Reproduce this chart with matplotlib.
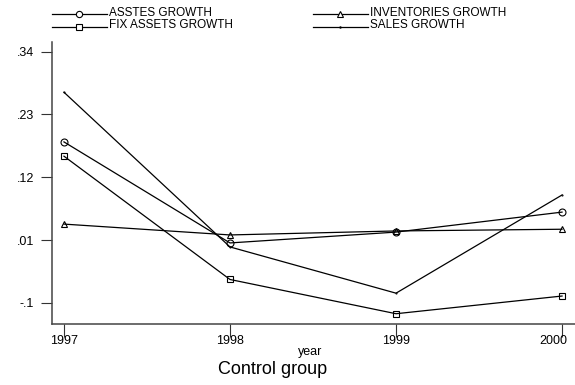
import matplotlib.pyplot as plt
import matplotlib.transforms as mtransforms
from matplotlib.lines import Line2D

plt.rcParams["font.family"] = ["Liberation Sans", "DejaVu Sans"]

years = [1997, 1998, 1999, 2000]
assets_growth = [0.182, 0.005, 0.024, 0.059]
inventories_growth = [0.038, 0.019, 0.026, 0.029]
fix_assets_growth = [0.157, -0.059, -0.119, -0.088]
sales_growth = [0.269, -0.002, -0.083, 0.089]
y_ticks = [-0.1, 0.01, 0.12, 0.23, 0.34]
y_labels = ["-.1", ".01", ".12", ".23", ".34"]

W, H = 575, 385
fig = plt.figure(figsize=(W / 100, H / 100), dpi=100)
ax = fig.add_axes([52 / W, 1 - 324 / H, 523 / W, 282 / H])

mk = dict(color="black", linewidth=0.9, markersize=5, markerfacecolor="none",
          markeredgewidth=0.8)
ax.plot(years, assets_growth, marker="o", **mk)
ax.plot(years, inventories_growth, marker="^", **mk)
ax.plot(years, fix_assets_growth, marker="s", **mk)
ax.plot(years, sales_growth, marker=".", color="black", linewidth=0.9, markersize=1)

ax.set_xlim(1996.928, 2000.078)
ax.set_ylim(-0.137, 0.357)
ax.set_xticks(years)
ax.set_xticklabels([str(y) for y in years], fontsize=9)
ax.set_yticks(y_ticks)
ax.set_yticklabels(y_labels, fontsize=9)
ax.tick_params(axis="y", direction="out", length=8, width=0.8, color="#333333", pad=5)
ax.tick_params(axis="x", direction="out", length=9, width=0.8, color="#333333", pad=-1)
for s in ["top", "right"]:
    ax.spines[s].set_visible(False)
for s in ["left", "bottom"]:
    ax.spines[s].set_color("#444444")
    ax.spines[s].set_linewidth(1.1)

# last year label is pushed left so it stays inside the picture
fig.canvas.draw()
last = ax.get_xticklabels()[-1]
last.set_transform(last.get_transform() +
                   mtransforms.ScaledTranslation(-9 / 100, 0, fig.dpi_scale_trans))

ax.set_xlabel("year", fontsize=9)
ax.xaxis.set_label_coords((310 - 52) / 523, -(346 - 324) / 282, transform=ax.transAxes)
fig.text(273 / W, 1 - 374 / H, "Control group", fontsize=13, ha="center", va="baseline")

# legend drawn by hand: two columns, two tight rows
legend_items = [
    ("ASSTES GROWTH", "o", 52, 13.5, 16.0),
    ("FIX ASSETS GROWTH", "s", 52, 27.0, 27.5),
    ("INVENTORIES GROWTH", "^", 313, 13.5, 16.0),
    ("SALES GROWTH", ".", 313, 27.0, 27.5),
]
for label, marker, x0, ly, ty in legend_items:
    yy = 1 - ly / H
    fig.add_artist(Line2D([x0 / W, (x0 + 55) / W], [yy, yy], color="black",
                          linewidth=0.9, transform=fig.transFigure))
    if marker == ".":
        fig.add_artist(Line2D([(x0 + 27) / W], [yy], marker=".", color="black",
                              markersize=1.5, transform=fig.transFigure))
    else:
        fig.add_artist(Line2D([(x0 + 27) / W], [yy], marker=marker, color="black",
                              markersize=4.5, markerfacecolor="white",
                              markeredgewidth=0.8, transform=fig.transFigure))
    fig.text((x0 + 57) / W, 1 - ty / H, label, fontsize=8.5, va="baseline")

fig.savefig("out.png", dpi=100)
